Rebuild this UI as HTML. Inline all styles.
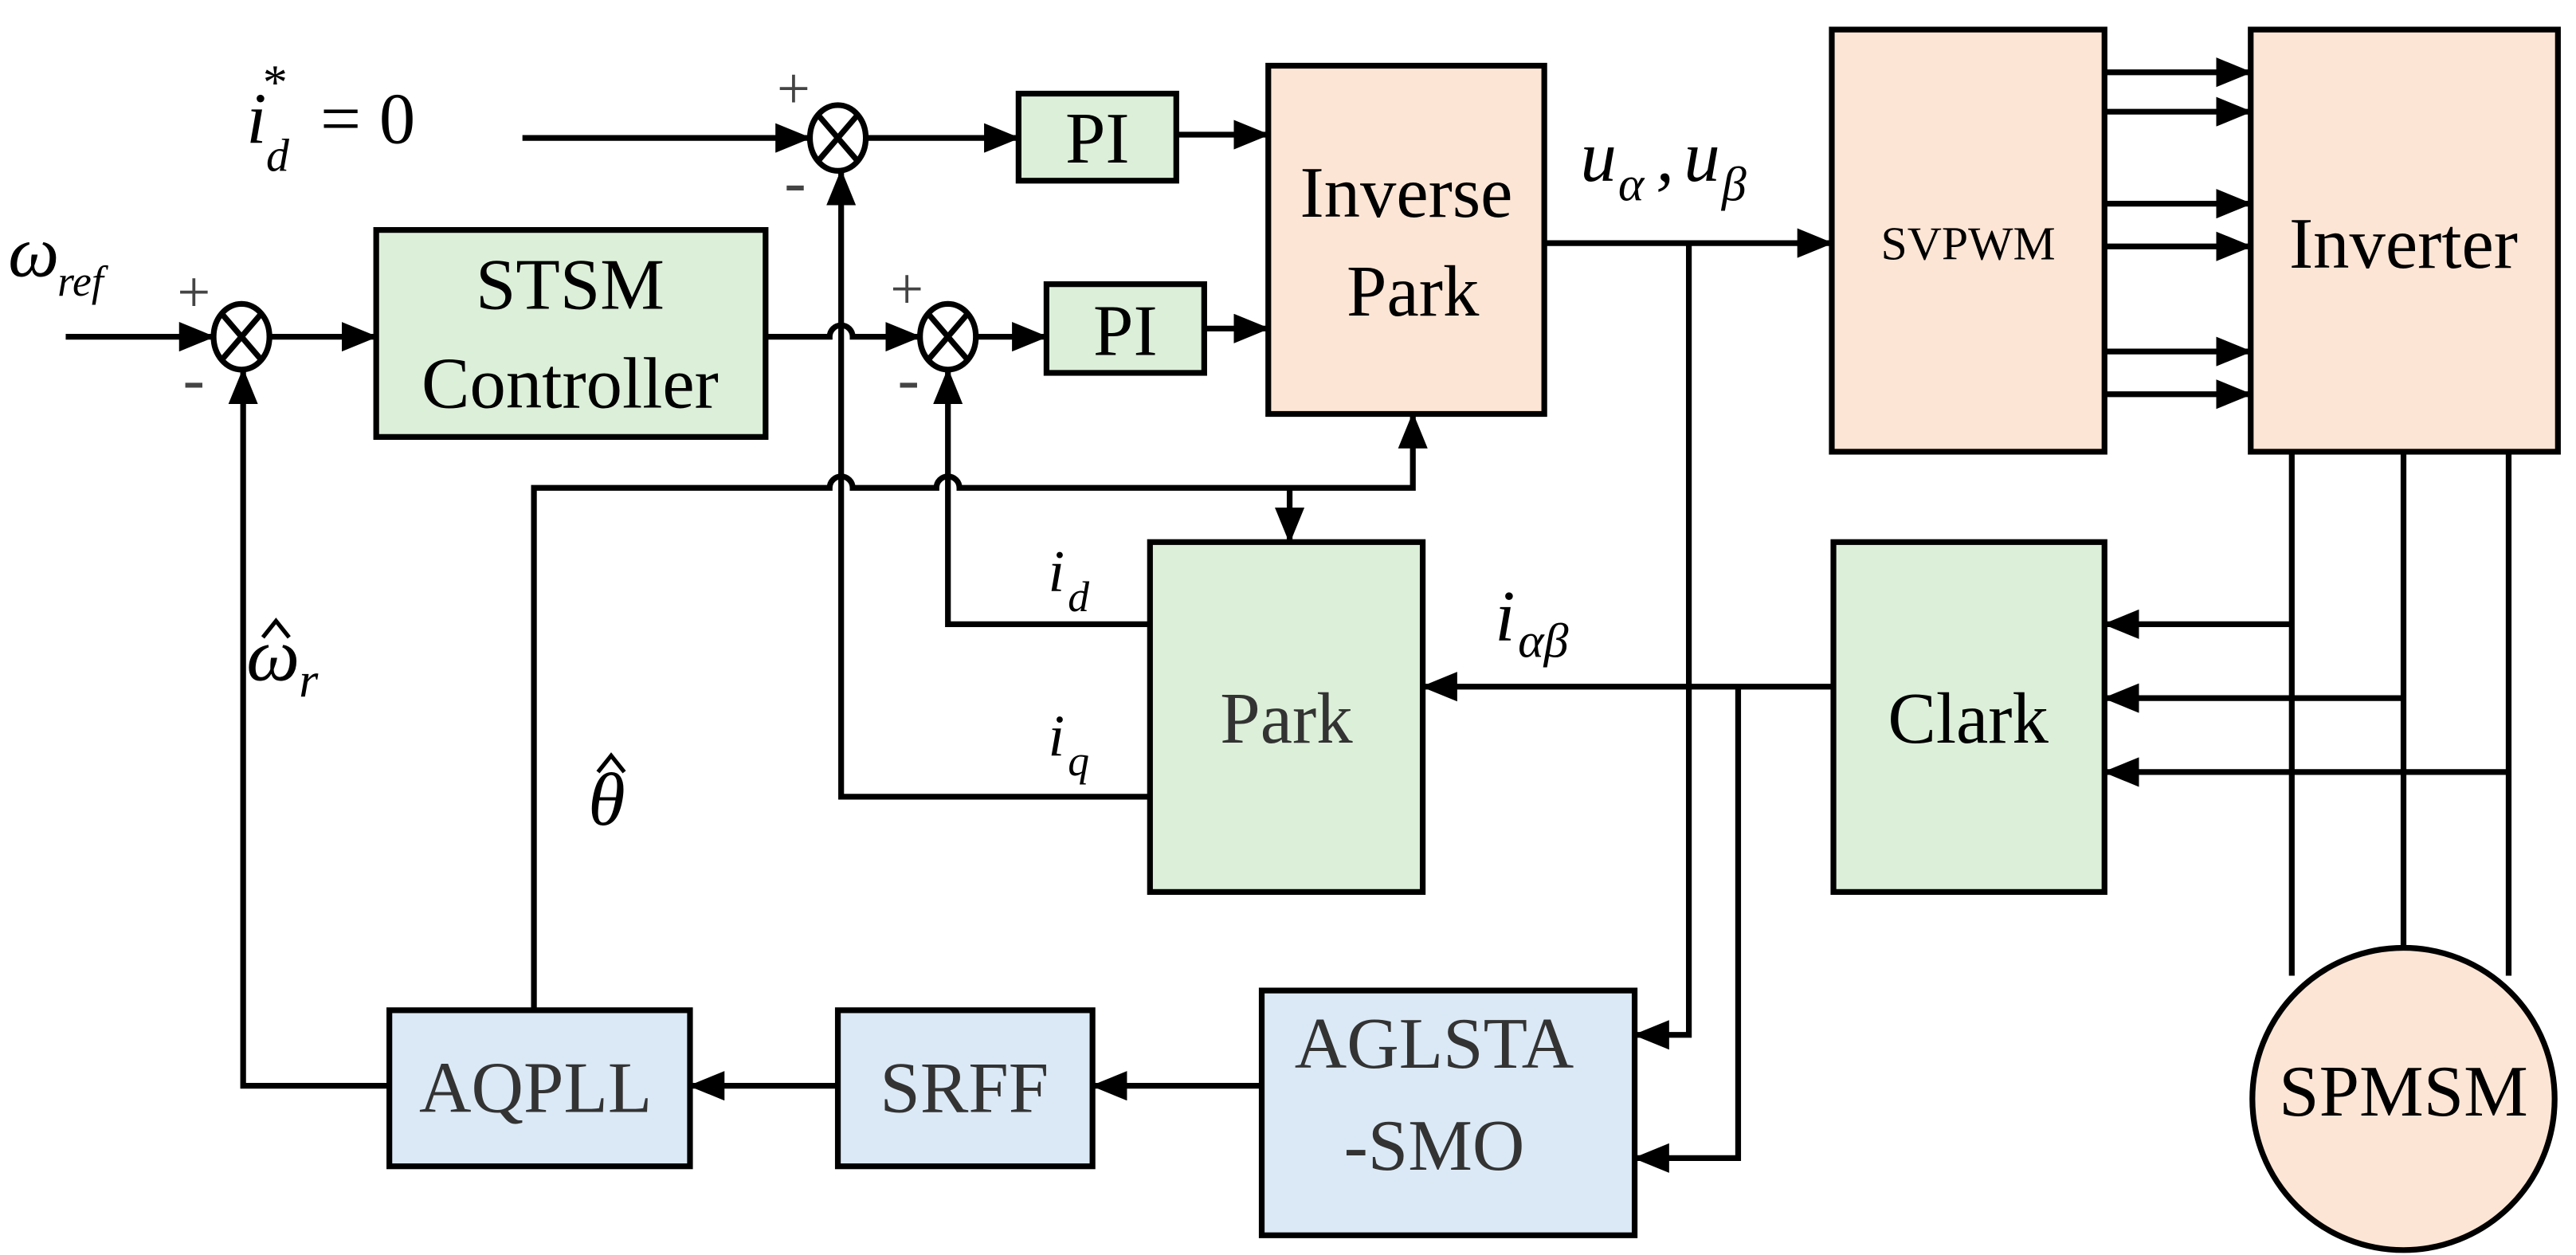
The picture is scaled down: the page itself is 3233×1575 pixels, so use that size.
<!DOCTYPE html>
<html><head><meta charset="utf-8"><style>
html,body{margin:0;padding:0;background:#fff;}
svg{display:block}
text{font-family:"Liberation Serif",serif;}
</style></head><body>
<svg width="3233" height="1575" viewBox="0 0 1568 764" preserveAspectRatio="none" xmlns="http://www.w3.org/2000/svg">
<defs>
<marker id="a" markerWidth="22" markerHeight="18" refX="20" refY="9" orient="auto" markerUnits="userSpaceOnUse" viewBox="0 0 22 18">
<path d="M0,0 L22,9 L0,18 z" fill="#000"/></marker>
</defs>
<g stroke="#000" stroke-width="3.5" fill="none">
<rect x="620" y="57" width="96" height="53" fill="#dcefd9"/>
<rect x="637" y="173" width="96" height="54" fill="#dcefd9"/>
<rect x="229" y="140" width="237" height="126" fill="#dcefd9"/>
<rect x="772" y="40" width="168" height="212" fill="#fde5d5"/>
<rect x="1115" y="18" width="166" height="257" fill="#fde5d5"/>
<rect x="1370" y="18" width="187" height="257" fill="#fde5d5"/>
<rect x="700" y="330" width="166" height="213" fill="#dcefd9"/>
<rect x="1116" y="330" width="165" height="213" fill="#dcefd9"/>
<rect x="768" y="603" width="227" height="149" fill="#dbe9f6"/>
<rect x="510" y="615" width="155" height="95" fill="#dbe9f6"/>
<rect x="237" y="615" width="183" height="95" fill="#dbe9f6"/>
<circle cx="1463" cy="669" r="92" fill="#fde5d5"/>
<ellipse cx="510" cy="84" rx="17" ry="20"/><path d="M498,70 L522,98 M522,70 L498,98"/>
<ellipse cx="147" cy="205" rx="17" ry="20"/><path d="M135,191 L159,219 M159,191 L135,219"/>
<ellipse cx="577" cy="205" rx="17" ry="20"/><path d="M565,191 L589,219 M589,191 L565,219"/>
<path d="M318,84 H492" marker-end="url(#a)"/>
<path d="M527,84 H619" marker-end="url(#a)"/>
<path d="M716,82 H771" marker-end="url(#a)"/>
<path d="M40,205 H129" marker-end="url(#a)"/>
<path d="M164,205 H228" marker-end="url(#a)"/>
<path d="M466,205 H505 A7,7 0 0 1 519,205 H559" marker-end="url(#a)"/>
<path d="M594,205 H636" marker-end="url(#a)"/>
<path d="M733,200 H771" marker-end="url(#a)"/>
<path d="M940,148 H1114" marker-end="url(#a)"/>
<path d="M1281,44 H1369" marker-end="url(#a)"/>
<path d="M1281,68 H1369" marker-end="url(#a)"/>
<path d="M1281,124 H1369" marker-end="url(#a)"/>
<path d="M1281,150 H1369" marker-end="url(#a)"/>
<path d="M1281,214 H1369" marker-end="url(#a)"/>
<path d="M1281,240 H1369" marker-end="url(#a)"/>
<path d="M1395,275 V594 M1463,275 V577 M1527,275 V594"/>
<path d="M1395,380 H1282" marker-end="url(#a)"/>
<path d="M1463,425 H1282" marker-end="url(#a)"/>
<path d="M1527,470 H1282" marker-end="url(#a)"/>
<path d="M1116,418 H867" marker-end="url(#a)"/>
<path d="M1028,148 V630 H996" marker-end="url(#a)"/>
<path d="M1058,418 V705 H996" marker-end="url(#a)"/>
<path d="M768,661 H666" marker-end="url(#a)"/>
<path d="M510,661 H421" marker-end="url(#a)"/>
<path d="M237,661 H148 V226" marker-end="url(#a)"/>
<path d="M325,615 V297 H505 A7,7 0 0 1 519,297 H570 A7,7 0 0 1 584,297 H860 V253" marker-end="url(#a)"/>
<path d="M785,297 V329" marker-end="url(#a)"/>
<path d="M700,380 H577 V226" marker-end="url(#a)"/>
<path d="M700,485 H512 V105" marker-end="url(#a)"/>
<!-- hats -->
<path d="M160,388 L168,378 L176,388" stroke-width="2.5"/>
<path d="M364,470 L372,460 L380,470" stroke-width="2.5"/>
</g>
<g fill="#000" font-size="44" text-anchor="middle">
<text x="856" y="132">Inverse</text>
<text x="860" y="192">Park</text>
<text x="347" y="188">STSM</text>
<text x="347" y="248">Controller</text>
<text x="668" y="99">PI</text>
<text x="685" y="216">PI</text>
<text x="1198" y="158" font-size="29">SVPWM</text>
<text x="1463" y="163">Inverter</text>
<text x="783" y="452" fill="#333">Park</text>
<text x="1198" y="452">Clark</text>
<text x="873" y="650" fill="#333">AGLSTA</text>
<text x="873" y="712" fill="#333">-SMO</text>
<text x="587" y="677" fill="#333">SRFF</text>
<text x="326" y="677" fill="#333">AQPLL</text>
<text x="1463" y="679">SPMSM</text>
<text x="483" y="66" font-size="36" fill="#444">+</text>
<text x="484" y="124" font-size="40" fill="#444">-</text>
<text x="118" y="190" font-size="36" fill="#444">+</text>
<text x="118" y="244" font-size="40" fill="#444">-</text>
<text x="552" y="188" font-size="36" fill="#444">+</text>
<text x="553" y="244" font-size="40" fill="#444">-</text>
</g>
<g fill="#000" font-style="italic" font-size="44">
<text x="150" y="87">i</text><text x="162" y="104" font-size="28">d</text><text x="160" y="60" font-size="30" font-style="normal">*</text>
<text x="195" y="87" font-style="normal">= 0</text>
<text x="5" y="168">ω</text><text x="35" y="180" font-size="26">ref</text>
<text x="962" y="110">u</text><text x="985" y="122" font-size="30">α</text><text x="1008" y="110">,</text>
<text x="1025" y="110">u</text><text x="1048" y="122" font-size="30">β</text>
<text x="910" y="390">i</text><text x="924" y="400" font-size="30">αβ</text>
<text x="638" y="360" font-size="36">i</text><text x="650" y="372" font-size="26">d</text>
<text x="638" y="460" font-size="36">i</text><text x="650" y="472" font-size="26">q</text>
<text x="150" y="414" font-size="46">ω</text><text x="182" y="424" font-size="30">r</text>
<text x="358" y="502" font-size="46">θ</text>
</g>
</svg>
</body></html>
